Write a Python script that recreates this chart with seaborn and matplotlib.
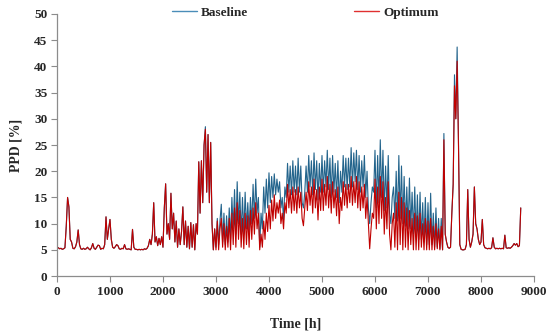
import matplotlib
matplotlib.use("Agg")
import matplotlib.pyplot as plt
from matplotlib.lines import Line2D
import seaborn as sns
import pandas as pd

step_h = 25
# one row = 500 h (20 readings, 25 h apart)
optimum = [
    5.5, 5.4, 5.2, 5.3, 5.1, 5.2, 5.4, 9.5, 15.0, 13.2, 7.0, 6.5, 5.3, 5.2, 5.6, 6.5, 8.8, 6.0, 5.2, 5.1,
    5.3, 5.1, 5.2, 5.5, 5.2, 5.0, 5.4, 6.2, 5.3, 5.1, 5.5, 5.9, 5.8, 5.1, 5.3, 5.2, 6.0, 11.3, 7.0, 9.0,
    10.8, 7.0, 5.5, 5.3, 5.6, 6.0, 5.8, 5.2, 5.1, 5.3, 5.2, 6.0, 5.2, 5.1, 5.2, 5.1, 5.0, 8.9, 5.5, 5.1,
    5.1, 5.0, 5.1, 5.0, 5.1, 5.0, 5.2, 5.1, 5.3, 5.8, 7.0, 6.0, 8.0, 14.0, 6.5, 7.5, 5.8, 7.2, 6.0, 7.5,
    5.5, 13.0, 17.6, 8.0, 10.0, 7.0, 15.8, 9.0, 12.0, 6.5, 10.5, 5.5, 9.0, 6.0, 8.5, 13.2, 6.0, 10.5, 5.5, 9.5,
    5.2, 10.2, 5.5, 9.8, 5.0, 10.0, 8.0, 21.8, 12.0, 22.0, 14.0, 25.0, 28.0, 16.0, 27.0, 14.0, 25.5, 10.0, 5.0, 9.0,
    5.0, 10.5, 5.0, 9.0, 11.0, 5.5, 10.0, 5.0, 9.5, 5.5, 11.0, 5.0, 12.0, 6.0, 13.0, 5.5, 14.0, 7.0, 12.5, 5.5,
    11.0, 5.2, 12.0, 6.0, 11.5, 5.5, 12.5, 7.0, 13.0, 8.0, 14.0, 9.0, 12.0, 5.0, 8.0, 5.5, 10.5, 7.0, 12.0, 8.5,
    13.5, 9.0, 14.5, 10.5, 15.5, 11.0, 14.0, 12.0, 14.5, 10.0, 12.0, 9.0, 14.0, 12.0, 17.5, 13.0, 16.5, 12.0, 17.0, 12.5,
    16.5, 12.0, 17.0, 13.0, 16.0, 11.0, 9.6, 13.0, 16.0, 12.5, 18.0, 13.5, 17.0, 12.0, 18.5, 13.0, 16.5, 10.7, 17.0, 12.5,
    18.5, 12.5, 17.5, 13.5, 19.0, 13.0, 17.5, 12.0, 18.0, 13.0, 16.5, 11.5, 17.0, 10.0, 15.0, 12.5, 18.0, 13.5, 17.5, 13.0,
    17.5, 14.0, 19.0, 13.5, 18.0, 14.0, 19.0, 13.0, 18.0, 12.5, 17.0, 13.0, 17.5, 11.0, 15.0, 10.0, 5.2, 9.0, 12.0, 11.0,
    18.5, 9.0, 17.0, 10.0, 19.0, 11.0, 18.0, 8.0, 15.0, 9.0, 18.0, 8.0, 5.0, 10.0, 12.0, 5.5, 14.0, 5.0, 16.0, 6.0,
    15.0, 5.0, 14.0, 5.5, 13.0, 5.0, 12.5, 6.0, 11.0, 5.0, 12.0, 5.0, 11.5, 5.0, 12.0, 5.5, 10.0, 5.0, 11.0, 5.0,
    10.5, 5.0, 11.0, 5.0, 9.5, 5.0, 10.0, 5.2, 9.0, 5.0, 9.5, 5.0, 26.0, 8.0, 6.5, 5.5, 5.3, 5.5, 12.0, 17.5,
    36.3, 30.0, 41.0, 25.0, 6.0, 5.1, 5.0, 5.0, 5.1, 6.0, 16.5, 7.0, 5.5, 6.5, 8.0, 17.0, 10.0, 9.0, 7.0, 6.0,
    6.5, 10.8, 6.0, 5.4, 5.3, 5.2, 5.3, 5.2, 5.4, 7.3, 5.5, 5.2, 5.3, 5.2, 5.3, 5.2, 5.3, 5.2, 7.8, 5.4,
    5.3, 5.4, 5.3, 5.5, 5.8, 6.2, 5.9, 6.2, 5.6, 5.8, 13.0,
]
baseline = [
    5.5, 5.4, 5.2, 5.3, 5.1, 5.2, 5.4, 9.5, 15.0, 13.2, 7.0, 6.5, 5.3, 5.2, 5.6, 6.5, 8.8, 6.0, 5.2, 5.1,
    5.3, 5.1, 5.2, 5.5, 5.2, 5.0, 5.4, 6.2, 5.3, 5.1, 5.5, 5.9, 5.8, 5.1, 5.3, 5.2, 6.0, 11.3, 7.0, 9.0,
    10.8, 7.0, 5.5, 5.3, 5.6, 6.0, 5.8, 5.2, 5.1, 5.3, 5.2, 6.0, 5.2, 5.1, 5.2, 5.1, 5.0, 8.9, 5.5, 5.1,
    5.1, 5.0, 5.1, 5.0, 5.1, 5.0, 5.2, 5.1, 5.3, 5.8, 7.0, 6.0, 8.0, 14.0, 6.5, 7.5, 5.8, 7.2, 6.0, 7.5,
    5.5, 13.0, 17.6, 8.0, 10.0, 7.0, 15.8, 9.0, 12.0, 6.5, 10.5, 5.5, 9.0, 6.0, 8.5, 13.2, 6.0, 10.5, 5.5, 9.5,
    5.2, 10.2, 5.5, 9.8, 5.0, 10.0, 8.0, 21.8, 12.0, 22.0, 14.0, 25.0, 28.5, 16.0, 27.0, 14.0, 25.5, 10.0, 5.0, 9.0,
    5.5, 11.0, 6.0, 10.5, 13.7, 6.5, 12.0, 6.0, 11.5, 6.5, 13.0, 7.0, 15.0, 9.0, 16.5, 8.0, 18.0, 10.0, 16.0, 8.0,
    15.0, 8.0, 16.0, 9.0, 14.0, 8.5, 15.0, 10.0, 17.5, 11.0, 18.5, 12.0, 15.0, 5.5, 12.0, 9.0, 17.0, 12.0, 18.5, 13.0,
    19.7, 14.0, 19.0, 15.0, 19.5, 15.5, 18.5, 16.0, 18.0, 13.0, 15.0, 10.7, 17.0, 15.0, 21.5, 16.0, 21.0, 15.5, 22.0, 16.0,
    21.0, 15.5, 22.5, 16.0, 21.0, 14.0, 13.0, 16.0, 21.0, 16.0, 23.0, 17.0, 22.0, 15.5, 23.5, 16.5, 22.0, 14.5, 21.5, 16.0,
    23.0, 16.0, 22.0, 17.0, 24.0, 16.5, 22.5, 15.0, 23.0, 16.0, 21.5, 15.0, 22.0, 14.0, 20.0, 16.0, 23.0, 17.0, 22.5, 16.5,
    22.5, 17.0, 24.5, 17.0, 23.5, 18.0, 24.0, 16.5, 23.0, 16.0, 22.0, 17.0, 23.0, 15.0, 20.0, 13.0, 10.0, 14.0, 17.0, 16.0,
    24.0, 13.0, 23.0, 14.0, 26.0, 15.0, 24.0, 12.5, 21.0, 13.0, 23.0, 12.0, 10.0, 15.0, 17.0, 11.0, 20.0, 10.5, 23.0, 11.0,
    21.0, 10.0, 19.0, 9.5, 17.0, 9.0, 18.7, 9.0, 16.0, 8.0, 17.0, 7.5, 15.5, 7.0, 16.0, 7.0, 14.0, 6.5, 15.0, 6.0,
    14.0, 6.0, 15.8, 6.0, 12.0, 5.5, 13.0, 5.5, 11.0, 5.2, 11.0, 5.0, 27.2, 8.0, 6.5, 5.5, 5.3, 5.5, 12.0, 17.5,
    38.4, 30.0, 43.7, 26.0, 6.0, 5.1, 5.0, 5.0, 5.1, 6.0, 16.5, 7.0, 5.5, 6.5, 8.0, 17.0, 10.0, 9.0, 7.0, 6.0,
    6.5, 10.8, 6.0, 5.4, 5.3, 5.2, 5.3, 5.2, 5.4, 7.3, 5.5, 5.2, 5.3, 5.2, 5.3, 5.2, 5.3, 5.2, 7.8, 5.4,
    5.3, 5.4, 5.3, 5.5, 5.8, 6.2, 5.9, 6.2, 5.6, 5.8, 13.0,
]
hours = [i * step_h for i in range(len(optimum))]
x_ticks = [0, 1000, 2000, 3000, 4000, 5000, 6000, 7000, 8000, 9000]
y_ticks = [0, 5, 10, 15, 20, 25, 30, 35, 40, 45, 50]

df = pd.DataFrame({
    "Time": hours * 2,
    "PPD": baseline + optimum,
    "Series": ["Baseline"] * len(baseline) + ["Optimum"] * len(optimum),
})

sns.set_theme(style="white")
plt.rcParams['font.family'] = ['Liberation Serif', 'DejaVu Serif']
plt.rcParams['font.weight'] = 'bold'

fig = plt.figure(figsize=(5.5, 3.33), dpi=100)
ax = fig.add_axes([0.1036, 0.171, 0.8673, 0.787])

palette = {"Baseline": "#23648C", "Optimum": "#C00000"}
sns.lineplot(data=df, x="Time", y="PPD", hue="Series", palette=palette,
             linewidth=0.8, ax=ax, legend=False, estimator=None, sort=False)

ax.set_xlim(0, 9000)
ax.set_ylim(0, 50)
ax.set_xticks(x_ticks)
ax.set_yticks(y_ticks)
ax.set_xticklabels([str(t) for t in x_ticks], fontsize=9.5, fontweight='bold')
ax.set_yticklabels([str(t) for t in y_ticks], fontsize=9.5, fontweight='bold')
ax.set_xlabel("Time [h]", fontsize=10, fontweight='bold', labelpad=14)
ax.set_ylabel("PPD [%]", fontsize=10, fontweight='bold', labelpad=8)

for s in ["top", "right"]:
    ax.spines[s].set_visible(False)
for s in ["left", "bottom"]:
    ax.spines[s].set_color("#8C8C8C")
    ax.spines[s].set_linewidth(0.9)
ax.tick_params(axis='both', which='major', length=4, width=0.8, color="#8C8C8C",
               direction='out', bottom=True, left=True, pad=3)

handles = [Line2D([0], [0], color="#4A8DB8", lw=1.0),
           Line2D([0], [0], color="#E03030", lw=1.0)]
fig.legend(handles, ["Baseline", "Optimum"], loc='center',
           bbox_to_anchor=(0.555, 0.962), ncol=2, frameon=False,
           prop={'family': 'Liberation Serif', 'weight': 'bold', 'size': 9.5},
           handlelength=1.9, columnspacing=8.0, handletextpad=0.3)

fig.savefig("out.png", dpi=100)
